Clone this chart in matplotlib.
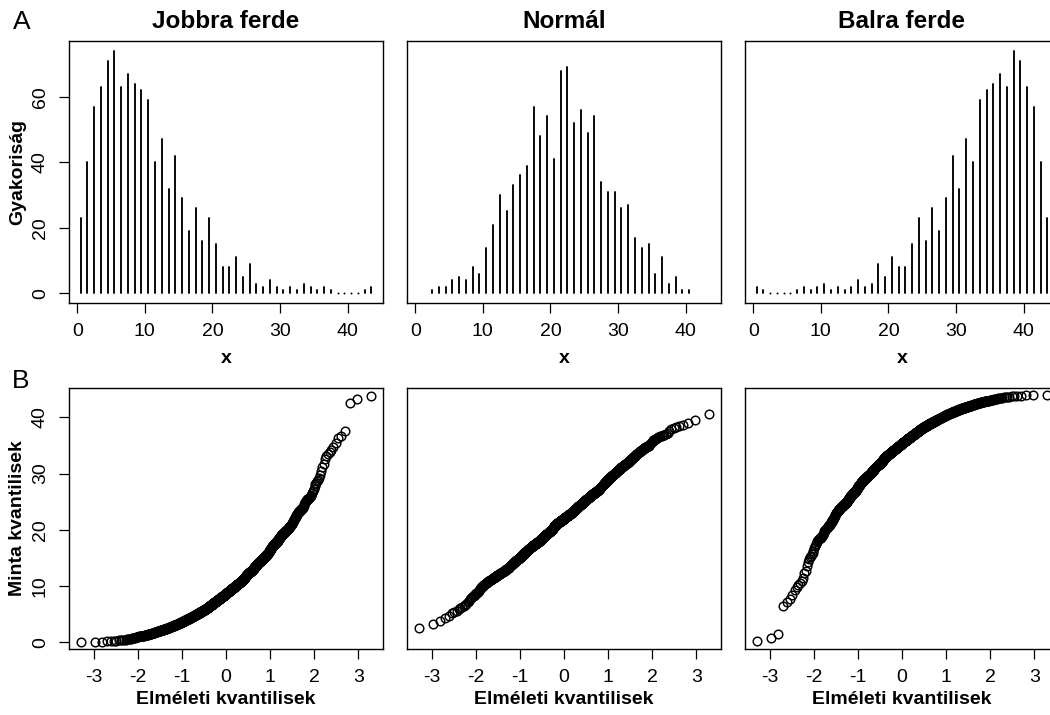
import numpy as np
import matplotlib
matplotlib.use("Agg")
import matplotlib.pyplot as plt
from statistics import NormalDist

plt.rcParams['font.family'] = ['Liberation Sans', 'DejaVu Sans']
plt.rcParams['axes.unicode_minus'] = False

# ---- data (frequency tables, bins of width 1) ----
titles = ["Jobbra ferde", "Normál", "Balra ferde"]

right_bins = np.arange(0, 44)          # lower bin edges 0..43
right_counts = [23, 40, 57, 63, 71, 74, 63, 67, 64, 62,
                59, 40, 47, 32, 42, 29, 19, 26, 16, 23,
                15, 8, 8, 11, 5, 9, 3, 2, 4, 2,
                1, 2, 1, 3, 2, 1, 2, 1, 0, 0,
                0, 0, 1, 2]

normal_bins = np.arange(2, 41)         # lower bin edges 2..40
normal_counts = [1, 2, 2, 4, 5, 4, 8, 6, 14, 21,
                 30, 25, 33, 36, 39, 57, 48, 54, 41, 68,
                 69, 52, 56, 49, 54, 34, 31, 31, 26, 27,
                 17, 14, 15, 6, 11, 3, 5, 1, 1]

left_bins = np.arange(0, 44)
left_counts = [2, 1, 0, 0, 0, 0, 1, 2, 1, 2,
               3, 1, 2, 1, 2, 4, 2, 3, 9, 5,
               11, 8, 8, 15, 23, 16, 26, 19, 29, 42,
               32, 47, 40, 59, 62, 64, 67, 63, 74, 71,
               63, 57, 40, 23]

hist_xticks = [0, 10, 20, 30, 40]
hist_yticks = [0, 20, 40, 60]
qq_xticks = [-3, -2, -1, 0, 1, 2, 3]
qq_yticks = [0, 10, 20, 30, 40]

datasets = [(right_bins, right_counts), (normal_bins, normal_counts), (left_bins, left_counts)]


def sample_from_table(bins, counts):
    vals = []
    for b, c in zip(bins, counts):
        for i in range(c):
            vals.append(b + (i + 0.5) / c)
    return np.array(sorted(vals))


def theo_quantiles(n):
    nd = NormalDist()
    return np.array([nd.inv_cdf((j + 0.5) / n) for j in range(n)])


W, H = 1050, 715
fig = plt.figure(figsize=(W / 100, H / 100), dpi=100)

lefts = [69, 407, 745]
box_w = 314
top_row = (41, 303.3)
bot_row = (387.7, 649.3)

FS_TICK = 14
FS_LAB = 14
FS_TITLE = 17.5


def make_ax(left, row):
    t, b = row
    return fig.add_axes([left / W, 1 - b / H, box_w / W, (b - t) / H])


for i, (bins, counts) in enumerate(datasets):
    # ---------- top row: frequency spikes ----------
    ax = make_ax(lefts[i], top_row)
    centers = np.asarray(bins) + 0.5
    counts = np.asarray(counts)
    ax.vlines(centers, 0, counts, colors='black', linewidth=1.35, capstyle='round')
    zeros = counts == 0
    if zeros.any():
        ax.plot(centers[zeros], counts[zeros], 'o', color='black', ms=1.4, mew=0)
    ax.set_xlim(-1.22, 45.22)
    ax.set_ylim(-3.0, 77.0)
    ax.set_xticks(hist_xticks)
    ax.set_title(titles[i], fontsize=FS_TITLE, fontweight='bold', pad=9)
    ax.set_xlabel('x', fontsize=FS_LAB, fontweight='bold')
    ax.xaxis.set_label_coords(0.5, -(358 - 303.3) / (303.3 - 41))
    ax.xaxis.label.set_va('center')
    if i == 0:
        ax.set_yticks(hist_yticks)
        ax.set_ylabel('Gyakoriság', fontsize=FS_LAB, fontweight='bold')
        ax.yaxis.set_label_coords(-(69 - 18) / box_w, 0.5)
        ax.yaxis.label.set_va('center')
        ax.tick_params(axis='y', labelrotation=90)
        for lab in ax.get_yticklabels():
            lab.set_va('center')
    else:
        ax.set_yticks([])
        ax.tick_params(axis='y', left=False, labelleft=False)

    # ---------- bottom row: normal Q-Q ----------
    axq = make_ax(lefts[i], bot_row)
    y = sample_from_table(bins, counts)
    x = theo_quantiles(len(y))
    axq.plot(x, y, 'o', mfc='none', mec='black', ms=6.2, mew=1.05)
    axq.set_xlim(-3.555, 3.555)
    axq.set_ylim(-1.24, 45.26)
    axq.set_xticks(qq_xticks)
    axq.set_xlabel('Elméleti kvantilisek', fontsize=FS_LAB, fontweight='bold')
    axq.xaxis.set_label_coords(0.5, -(700 - 649.3) / (649.3 - 387.7))
    axq.xaxis.label.set_va('center')
    if i == 0:
        axq.set_yticks(qq_yticks)
        axq.set_ylabel('Minta kvantilisek', fontsize=FS_LAB, fontweight='bold')
        axq.yaxis.set_label_coords(-(69 - 18) / box_w, 0.5)
        axq.yaxis.label.set_va('center')
        axq.tick_params(axis='y', labelrotation=90)
        for lab in axq.get_yticklabels():
            lab.set_va('center')
    else:
        axq.set_yticks([])
        axq.tick_params(axis='y', left=False, labelleft=False)

    for a in (ax, axq):
        a.tick_params(direction='out', length=7, width=0.9, labelsize=FS_TICK, pad=7.5,
                      colors='black')
        for s in a.spines.values():
            s.set_linewidth(1.0)
            s.set_color('black')

fig.text(13 / W, 1 - 29 / H, 'A', fontsize=19, ha='left', va='baseline')
fig.text(12 / W, 1 - 387.5 / H, 'B', fontsize=19, ha='left', va='baseline')

fig.savefig('out.png', dpi=100)
